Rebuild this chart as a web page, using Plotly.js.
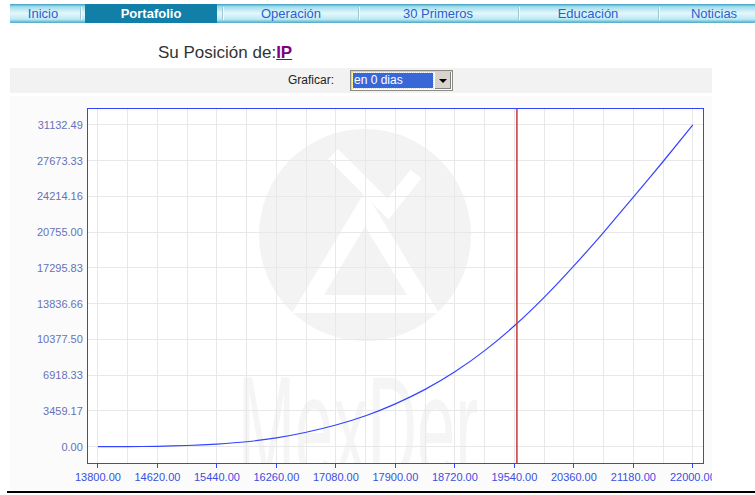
<!DOCTYPE html>
<html>
<head>
<meta charset="utf-8">
<script src="https://cdn.plot.ly/plotly-3.0.1.min.js"></script>
<style>
  html, body { margin:0; padding:0; background:#ffffff; }
  body { width:755px; height:495px; overflow:hidden; position:relative; font-family:"Liberation Sans", Arial, sans-serif; }
  #nav { position:absolute; left:10px; top:4px; width:745px; height:19px;
    background:linear-gradient(to bottom, #3f9fc2 0%, #9fdcec 14%, #e4f7fb 48%, #bdeaf4 80%, #4aa9c9 100%); }
  #tabsel { position:absolute; left:85px; top:4px; width:132px; height:19px; background:#127fa8; }
  .nl { position:absolute; top:4px; height:19px; line-height:19px; font-size:13px; color:#2a5fd0; transform:translateX(-50%); white-space:nowrap; }
  .nl.sel { color:#ffffff; font-weight:bold; }
  .sep { position:absolute; top:7px; width:1px; height:13px; background:#f4fbfd; border-left:1px solid #9cc8d8; }
  #posicion { position:absolute; left:158px; top:43px; font-size:17px; color:#333333; white-space:nowrap; }
  #posicion a { color:#800080; font-weight:bold; text-decoration:underline; }
  #band { position:absolute; left:10px; top:68px; width:702px; height:25px; background:#f2f2f2; }
  #graf { position:absolute; left:288px; top:73px; font-size:12px; color:#222; }
  #sel { position:absolute; left:350px; top:70px; width:101px; height:19px; border:1px solid #8c8a84; background:#ffffff; box-shadow:inset 1px 1px 0 #d4d0c8; }
  #selval { position:absolute; left:2px; top:2px; width:79px; height:15px; background:#3868d8; color:#fff; font-size:12px; line-height:15px; padding-left:1px; outline:1px dotted #f0e080; }
  #selbtn { position:absolute; right:1px; top:1px; width:16px; height:17px; background:#d8d4cc; border-left:1px solid #fff; box-shadow:inset -1px -1px 0 #808080; }
  #selbtn:after { content:""; position:absolute; left:4px; top:7px; border-left:4px solid transparent; border-right:4px solid transparent; border-top:4px solid #000; }
  #clip { position:absolute; left:10px; top:96px; width:702px; height:394px; overflow:hidden; background:#fbfbfb; }
  #chart { position:absolute; left:0; top:0; width:745px; height:394px; }
  #rule { position:absolute; left:7px; top:491px; width:748px; height:2px; background:#000; }
</style>
</head>
<body>
<div id="nav"></div>
<div id="tabsel"></div>
<div class="sep" style="left:80px"></div>
<div class="sep" style="left:222px"></div>
<div class="sep" style="left:358px"></div>
<div class="sep" style="left:518px"></div>
<div class="sep" style="left:658px"></div>
<div class="nl" style="left:43px">Inicio</div>
<div class="nl sel" style="left:151px">Portafolio</div>
<div class="nl" style="left:291px">Operación</div>
<div class="nl" style="left:438px">30 Primeros</div>
<div class="nl" style="left:588px">Educación</div>
<div class="nl" style="left:714px">Noticias</div>
<div id="posicion">Su Posición de:<a>IP</a></div>
<div id="band"></div>
<div id="graf">Graficar:</div>
<div id="sel"><div id="selval">en 0 dias</div><div id="selbtn"></div></div>
<div id="clip"><div id="chart"></div></div>
<div id="rule"></div>
<script>
// ---- data ----
const precios = [13800, 14210, 14620, 15030, 15440, 15850, 16260, 16670, 17080, 17490,
                 17900, 18310, 18720, 19130, 19540, 19950, 20360, 20770, 21180, 21590, 22000];
const valores = [0, 10, 40, 120, 260, 480, 850, 1400, 2100, 3000,
                 4150, 5550, 7250, 9300, 11700, 14450, 17500, 20750, 24150, 27600, 31132.49];
const precioActual = [19575];
const yTickVals = [0, 3459.17, 6918.33, 10377.50, 13836.66, 17295.83, 20755.00, 24214.16, 27673.33, 31132.49];
const yTickText = ['0.00', '3459.17', '6918.33', '10377.50', '13836.66', '17295.83', '20755.00', '24214.16', '27673.33', '31132.49'];
const xTickVals = [13800, 14620, 15440, 16260, 17080, 17900, 18720, 19540, 20360, 21180, 22000];
const xTickText = ['13800.00', '14620.00', '15440.00', '16260.00', '17080.00', '17900.00', '18720.00', '19540.00', '20360.00', '21180.00', '22000.00'];

const wm = '<svg xmlns="http://www.w3.org/2000/svg" width="615" height="354" viewBox="0 0 615 354">' +
  '<circle cx="277" cy="126" r="106" fill="#f3f3f3"/>' +
  '<path d="M220 195 L277 100 L335 195 Z" fill="none" stroke="#ffffff" stroke-width="18"/>' +
  '<path d="M245 45 L300 100 L328 65" fill="none" stroke="#ffffff" stroke-width="14"/>' +
  '<text x="150" y="372" font-family="Liberation Sans" font-size="150" fill="#f5f5f5" textLength="240" lengthAdjust="spacingAndGlyphs">MexDer</text>' +
  '</svg>';

const trace = {
  x: precios, y: valores, type: 'scatter', mode: 'lines', line: { color: '#3344ff', width: 1.2, shape: 'spline', smoothing: 0.6 }, hoverinfo: 'skip'
};

const layout = {
  width: 745, height: 394,
  margin: { l: 78, r: 52, t: 13, b: 27, pad: 0 },
  paper_bgcolor: 'rgba(0,0,0,0)', plot_bgcolor: '#ffffff',
  showlegend: false,
  font: { family: 'Liberation Sans, Arial, sans-serif', size: 11 },
  xaxis: {
    range: [13663, 22140], tickmode: 'array', tickvals: xTickVals, ticktext: xTickText,
    ticks: 'outside', ticklen: 4, tickcolor: '#3344ff', tickwidth: 1,
    showline: true, linecolor: '#3344ff', linewidth: 1, mirror: true,
    showgrid: true, gridcolor: '#e8e8e8', gridwidth: 1, zeroline: false,
    minor: { dtick: 410, tick0: 13800, showgrid: true, gridcolor: '#e8e8e8', gridwidth: 1 },
    tickfont: { color: '#3a4fe0', size: 11, family: 'Liberation Sans, Arial, sans-serif' }
  },
  yaxis: {
    range: [-1575, 32680], tickmode: 'array', tickvals: yTickVals, ticktext: yTickText,
    ticks: '', showline: true, linecolor: '#3344ff', linewidth: 1, mirror: true,
    showgrid: true, gridcolor: '#e8e8e8', gridwidth: 1, zeroline: false,
    ticklabelstandoff: 2,
    tickfont: { color: '#6672b8', size: 11, family: 'Liberation Sans, Arial, sans-serif' }
  },
  shapes: [{
    type: 'line', xref: 'x', yref: 'paper', x0: precioActual[0], x1: precioActual[0], y0: 0, y1: 1,
    line: { color: '#c83838', width: 1.5 }
  }],
  images: [{
    source: 'data:image/svg+xml;charset=utf-8,' + encodeURIComponent(wm),
    xref: 'paper', yref: 'paper', x: 0, y: 1, sizex: 1, sizey: 1,
    xanchor: 'left', yanchor: 'top', sizing: 'stretch', layer: 'below', opacity: 1
  }]
};

Plotly.newPlot('chart', [trace], layout, { displayModeBar: false, staticPlot: true });
</script>
</body>
</html>
